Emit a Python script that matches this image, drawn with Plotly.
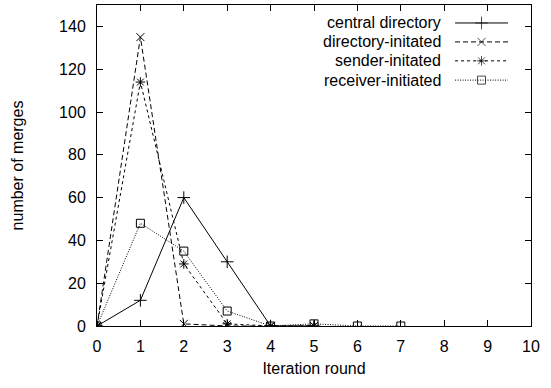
import plotly.graph_objects as go

# ---- data ----
rounds_central = [0, 1, 2, 3, 4, 5]
central_directory = [0, 12, 60, 30, 0, 0]
rounds_directory = [0, 1, 2, 3, 4, 5]
directory_initiated = [0, 135, 1, 0, 0, 0]
rounds_sender = [0, 1, 2, 3, 4, 5]
sender_initiated = [0, 114, 29, 1, 0, 0]
rounds_receiver = [0, 1, 2, 3, 4, 5, 6, 7]
receiver_initiated = [0, 48, 35, 7, 0, 1, 0, 0]

series_names = ["central directory", "directory-initated", "sender-initated", "receiver-initiated"]
x_ticks = list(range(0, 11))
y_ticks = list(range(0, 141, 20))

FONT = "Liberation Sans, Arial, sans-serif"
FS = 16
styles = [
    dict(dash="solid", symbol="cross-thin-open", size=9),
    dict(dash="5px,3px", symbol="x-thin-open", size=8),
    dict(dash="3px,3px", symbol="asterisk-open", size=8),
    dict(dash="1px,1.5px", symbol="square-open", size=8),
]
data = [
    (rounds_central, central_directory),
    (rounds_directory, directory_initiated),
    (rounds_sender, sender_initiated),
    (rounds_receiver, receiver_initiated),
]

fig = go.Figure()
for (xs, ys), st, name in zip(data, styles, series_names):
    fig.add_trace(go.Scatter(
        x=xs, y=ys, mode="lines+markers", name=name, showlegend=False,
        line=dict(color="black", width=1, dash=st["dash"]),
        marker=dict(symbol=st["symbol"], size=st["size"], color="black",
                    line=dict(color="black", width=1)),
    ))

# custom gnuplot-style legend (text right, sample to the right)
legend_rows = [0.944, 0.885, 0.826, 0.766]
for st, name, yy in zip(styles, series_names, legend_rows):
    fig.add_trace(go.Scatter(
        x=[0.825, 0.886, 0.947], y=[yy, yy, yy], xaxis="x2", yaxis="y2",
        mode="lines+markers", showlegend=False, hoverinfo="skip",
        line=dict(color="black", width=1, dash=st["dash"]),
        marker=dict(symbol=st["symbol"], size=[0, st["size"], 0], color="black",
                    line=dict(color="black", width=1)),
    ))
    fig.add_annotation(x=0.797, y=yy, xref="x2", yref="y2", text=name,
                       showarrow=False, xanchor="right", yanchor="middle",
                       font=dict(family=FONT, size=FS, color="black"))

axis_common = dict(showgrid=False, zeroline=False, ticks="inside", ticklen=6,
                   tickcolor="black", tickwidth=1, showline=True, linecolor="black",
                   linewidth=1, mirror="ticks",
                   tickfont=dict(family=FONT, size=FS, color="black"))

fig.update_layout(
    width=551, height=388,
    margin=dict(l=97, r=20, t=5, b=62),
    paper_bgcolor="white", plot_bgcolor="white",
    showlegend=False,
    xaxis=dict(range=[0, 10], tickvals=x_ticks, ticklabelstandoff=6,
               title=dict(text="Iteration round", font=dict(family=FONT, size=FS, color="black"), standoff=8),
               **axis_common),
    yaxis=dict(range=[0, 150], tickvals=y_ticks, ticklabelstandoff=7,
               title=dict(text="number of merges", font=dict(family=FONT, size=FS, color="black"), standoff=31),
               **axis_common),
    xaxis2=dict(overlaying="x", range=[0, 1], visible=False),
    yaxis2=dict(overlaying="y", range=[0, 1], visible=False),
)

fig.write_html("out.html")
